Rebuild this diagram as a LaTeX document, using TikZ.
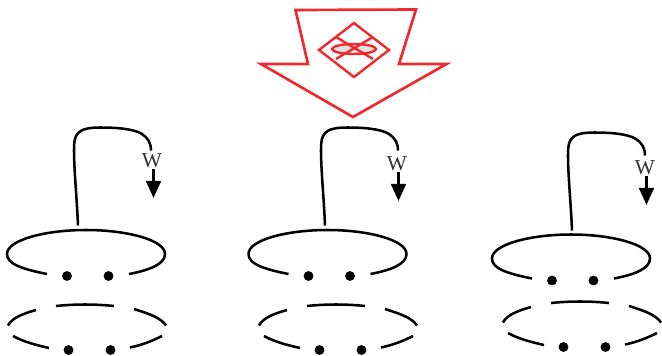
\documentclass[tikz,border=0pt]{standalone}
\usepackage{fontspec}
\setmainfont{Liberation Serif}
\usetikzlibrary{arrows.meta}
\definecolor{redline}{HTML}{EE2A2E}
\tikzset{
  x=0.75pt,y=-0.75pt,
  wire/.style={draw=black,line width=1.9pt,line cap=butt},
  redshape/.style={draw=redline,line width=2pt,line join=miter},
  redthin/.style={redshape,line width=1.8pt},
  dotmark/.style={circle,fill=black,inner sep=0pt,minimum width=7.4pt},
  wlabel/.style={inner sep=0pt,text=black!80,font=\fontsize{16}{17}\selectfont},
  tipline/.style={draw=black,line width=2.1pt,-{Triangle[length=12.8pt,width=11pt]}}
}
\newcommand{\upperring}[3]{% name, dx, dy
  \begin{scope}[shift={(#2,#3)}]
    \draw[wire] (47,274) .. controls (22,269) and (7,264) .. (7,254)
      .. controls (7,240) and (45,230) .. (86,230)
      .. controls (127,230) and (165,240) .. (165,254)
      .. controls (165,264) and (150,270) .. (129,274);
    \node[dotmark] (#1a) at (67,276) {};
    \node[dotmark] (#1b) at (108.5,276) {};
  \end{scope}}
\newcommand{\lowerring}[3]{%
  \begin{scope}[shift={(#2,#3)}]
    \draw[wire] (36,310) .. controls (22,314) and (12,318) .. (8,325.5);
    \draw[wire] (56,306) .. controls (75,304) and (95,304) .. (114,306);
    \draw[wire] (134,309) .. controls (150,314) and (161,318) .. (166,325.5);
    \draw[wire] (13,336) .. controls (24,342) and (36,345) .. (49,348);
    \draw[wire] (130,347.5) .. controls (142,345) and (152,341) .. (162,336);
    \node[dotmark] (#1a) at (68.5,350) {};
    \node[dotmark] (#1b) at (110.5,350) {};
  \end{scope}}
\newcommand{\handle}[5]{% name, wire dx, wire dy, label dx, label dy
  \begin{scope}[shift={(#2,#3)}]
    \coordinate (#1s) at (78,225.5);
    \coordinate (#1e) at (151,150.5);
    \draw[wire] (#1s) .. controls (77,200) and (74,170) .. (74,150)
      .. controls (74,135) and (76,127.5) .. (100,127.5)
      .. controls (118,127.5) and (134,129) .. (142,134)
      .. controls (148,138) and (151,143) .. (#1e);
  \end{scope}
  \begin{scope}[shift={(#4,#5)}]
    \node[wlabel] (#1w) at (152,161) {W};
    \coordinate (#1t) at (153.5,198);
    \draw[tipline] (#1w.south -| #1t) ++(0,1) -- (#1t);
  \end{scope}}
\begin{document}
\begin{tikzpicture}
\useasboundingbox (0,0) rectangle (662,355);
% big red arrow
\draw[redshape] (295.5,10) -- (416,9.5) -- (399,64) -- (446.5,64) -- (353,117) -- (261,64) -- (308,64) -- cycle;
\fill[gray!22] (354,49) ellipse [x radius=22,y radius=5];
\draw[redthin] (354,23) -- (389,50) -- (354,77) -- (319,50) -- cycle;
\draw[redthin] (336,37) -- (373,59);
\draw[redthin] (373,37) -- (336,59);
\draw[redthin] (354,49) ellipse [x radius=22,y radius=5];
% three groups
\handle{p}{0}{0}{0}{0}
\upperring{pu}{0}{0}
\lowerring{pl}{0}{0}
\handle{q}{247}{0}{245}{3}
\upperring{qu}{241.5}{0}
\lowerring{ql}{251}{0}
\handle{r}{494}{5}{493}{7}
\upperring{ru}{485}{4.5}
\lowerring{rl}{495}{-3}
\end{tikzpicture}
\end{document}
